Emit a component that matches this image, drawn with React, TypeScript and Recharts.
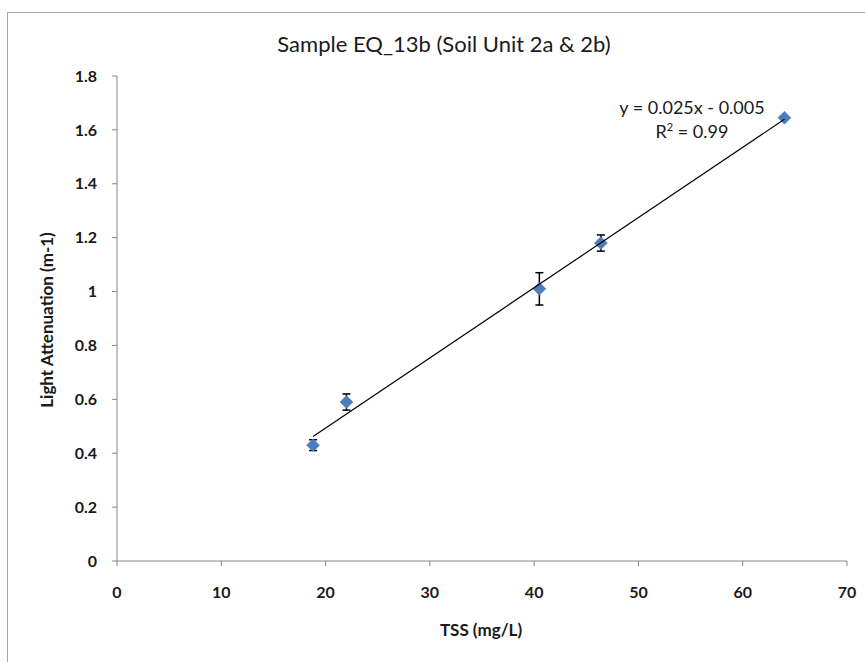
import React from "react";
import { ErrorBar, Scatter, ScatterChart, XAxis, YAxis } from "recharts";

const tssValues = [18.8, 22.0, 40.5, 46.4, 64.0];
const attenuationValues = [0.43, 0.59, 1.01, 1.18, 1.645];
const errorValues = [0.02, 0.03, 0.06, 0.03, 0.0];

const xTicks = [0, 10, 20, 30, 40, 50, 60, 70];
const yTicks = [0, 0.2, 0.4, 0.6, 0.8, 1, 1.2, 1.4, 1.6, 1.8];

const points = tssValues.map((x, i) => ({ x, y: attenuationValues[i], err: errorValues[i] }));

// least-squares trendline over the observed range (what Excel draws)
function fitLine() {
  const n = tssValues.length;
  const mx = tssValues.reduce((a, b) => a + b, 0) / n;
  const my = attenuationValues.reduce((a, b) => a + b, 0) / n;
  let sxy = 0;
  let sxx = 0;
  tssValues.forEach((x, i) => {
    sxy += (x - mx) * (attenuationValues[i] - my);
    sxx += (x - mx) * (x - mx);
  });
  const slope = sxy / sxx;
  const intercept = my - slope * mx;
  const x0 = Math.min(...tssValues);
  const x1 = Math.max(...tssValues);
  return [
    { x: x0, y: slope * x0 + intercept },
    { x: x1, y: slope * x1 + intercept },
  ];
}

const trend = fitLine();

const FONT = "Lato, 'Open Sans', sans-serif";
const AXIS = "#868686";
const INK = "#1a1a1a";

function Diamond(props: any) {
  const { cx, cy } = props;
  if (cx == null || cy == null) return null;
  const r = 6.5;
  return (
    <polygon
      points={`${cx},${cy - r} ${cx + r},${cy} ${cx},${cy + r} ${cx - r},${cy}`}
      fill="#4a7ebb"
      stroke="#4a7ebb"
      strokeWidth={0.5}
    />
  );
}

export default function App() {
  const tickStyle = { fill: INK, fontSize: 16, fontWeight: 700, fontFamily: FONT };
  return (
    <div style={{ position: "absolute", left: 0, top: 0, width: 865, height: 662, background: "#fff", fontFamily: FONT, overflow: "hidden" }}>
      <div
        style={{
          position: "absolute",
          left: 7,
          top: 12,
          width: 900,
          height: 700,
          borderLeft: "1px solid #a6a6a6",
          borderTop: "1px solid #a6a6a6",
        }}
      />
      <div style={{ position: "absolute", left: 0, width: 888, top: 30, textAlign: "center", fontSize: 22, lineHeight: "28px", color: INK }}>
        Sample EQ_13b (Soil Unit 2a &amp; 2b)
      </div>
      <ScatterChart width={865} height={662} margin={{ top: 76, right: 18, bottom: 0, left: 0 }} style={{ position: "absolute", left: 0, top: 0 }}>
        <XAxis
          type="number"
          dataKey="x"
          domain={[0, 70]}
          ticks={xTicks}
          height={101}
          tick={tickStyle}
          tickSize={5}
          tickMargin={21}
          axisLine={{ stroke: AXIS }}
          tickLine={{ stroke: AXIS }}
        />
        <YAxis
          type="number"
          dataKey="y"
          domain={[0, 1.8]}
          ticks={yTicks}
          width={117}
          tick={tickStyle}
          tickSize={5}
          tickMargin={15}
          axisLine={{ stroke: AXIS }}
          tickLine={{ stroke: AXIS }}
        />
        <Scatter data={points} shape={<Diamond />} isAnimationActive={false}>
          <ErrorBar dataKey="err" direction="y" width={4} stroke="#000" strokeWidth={1.5} />
        </Scatter>
        <Scatter
          data={trend}
          line={{ stroke: "#000", strokeWidth: 1.2 }}
          shape={() => null}
          isAnimationActive={false}
        />
      </ScatterChart>
      <div style={{ position: "absolute", left: 592, width: 200, top: 95, textAlign: "center", fontSize: 18, color: INK, lineHeight: "24px" }}>
        y = 0.025x - 0.005
        <br />
        R<sup style={{ fontSize: 11, lineHeight: 0 }}>2</sup> = 0.99
      </div>
      <div
        style={{
          position: "absolute",
          left: 46,
          top: 320,
          transform: "translate(-50%, -50%) rotate(-90deg)",
          whiteSpace: "nowrap",
          fontSize: 17,
          fontWeight: 700,
          color: INK,
        }}
      >
        Light Attenuation (m-1)
      </div>
      <div style={{ position: "absolute", left: 381, width: 200, top: 619, textAlign: "center", fontSize: 17, lineHeight: "22px", fontWeight: 700, color: INK }}>
        TSS (mg/L)
      </div>
    </div>
  );
}
